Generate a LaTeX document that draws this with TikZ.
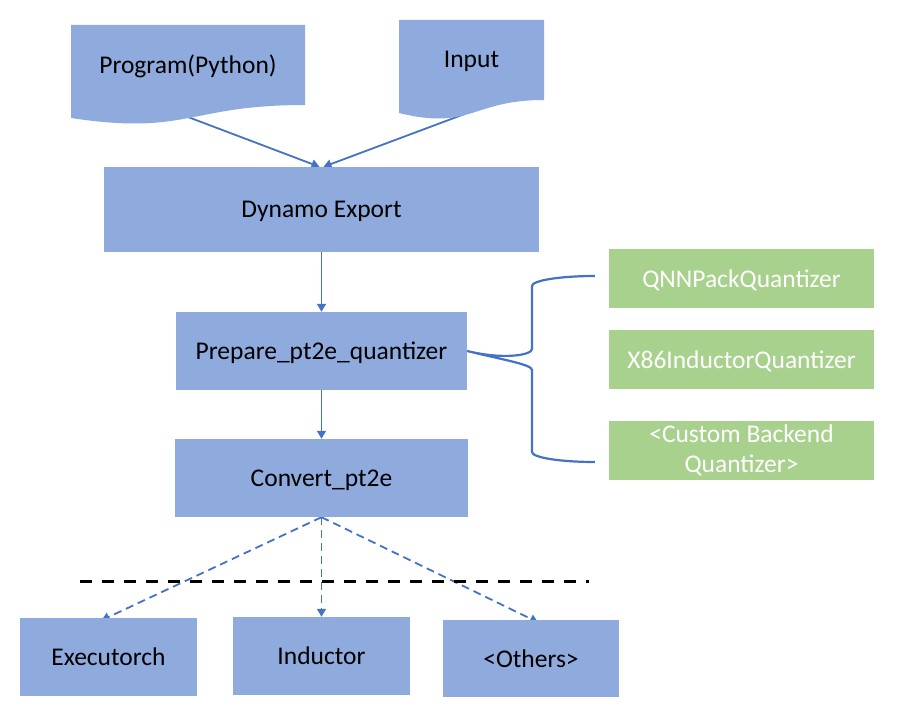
\documentclass[tikz,border=0pt]{standalone}
\usepackage{fontspec}
\setmainfont{Carlito}
\usetikzlibrary{arrows.meta,calc}
\definecolor{boxblue}{HTML}{8FAADC}
\definecolor{boxgreen}{HTML}{A9D18E}
\definecolor{linkblue}{HTML}{4472C4}
\pgfdeclarelayer{bg}
\pgfsetlayers{bg,main}
\begin{document}
\begin{tikzpicture}[x=1pt,y=-1pt,
  lbl/.style={font=\fontsize{25.5}{30}\selectfont, inner sep=0pt, align=center},
  oneline/.style={text height=20pt, text depth=3pt},
  bluebox/.style={lbl, fill=boxblue, draw=none, text=black},
  greenbox/.style={lbl, fill=boxgreen, draw=none, text=white, minimum width=265pt, minimum height=59pt},
  docshape/.style={fill=boxblue, draw=none},
  flow/.style={draw=linkblue, line width=1.8pt, -{Triangle[width=9pt,length=8pt]}},
  dflow/.style={flow, dash pattern=on 8pt off 5pt},
  bracepath/.style={draw=linkblue, line width=2.2pt},
  divider/.style={draw=black, line width=3pt, dash pattern=on 12pt off 10pt}
]
\useasboundingbox (0,0) rectangle (919,706);

% document shapes
\path[docshape] (71,25) -- (305,25) -- (305,105) .. controls (188,105) and (188,135.7) .. (71,118) -- cycle;
\path[docshape] (399,20) -- (544,20) -- (544,100) .. controls (471.5,100) and (471.5,130.7) .. (399,113) -- cycle;
\node[lbl, oneline] (prog) at (188,65.5) {Program(Python)};
\node[lbl, oneline] (inp) at (471.5,59.5) {Input};
\coordinate (progout) at (188,117);
\coordinate (inpout) at (470,112);

% main boxes
\node[bluebox, oneline, minimum width=435pt, minimum height=85pt] (dyn) at (321.5,209.5) {Dynamo Export};
\node[bluebox, oneline, minimum width=291pt, minimum height=78pt] (prep) at (321.5,351) {Prepare\_pt2e\_quantizer};
\node[bluebox, oneline, minimum width=293pt, minimum height=78pt] (conv) at (321.5,478) {Convert\_pt2e};
\node[bluebox, oneline, minimum width=177pt, minimum height=78pt] (exe) at (108.5,657) {Executorch};
\node[bluebox, oneline, minimum width=177pt, minimum height=78pt] (ind) at (321.5,656) {Inductor};
\node[bluebox, oneline, minimum width=176pt, minimum height=77pt] (oth) at (531,658.5) {<Others>};

% quantizers
\node[greenbox, oneline] (qnn) at (741.5,278.5) {QNNPackQuantizer};
\node[greenbox, oneline] (x86) at (741.5,359.5) {X86InductorQuantizer};
\node[greenbox] (cust) at (741.5,450.5) {<Custom Backend\\Quantizer>};

% connectors
\begin{pgfonlayer}{bg}
\draw[flow] (progout) -- ($(dyn.north)+(-2,0)$);
\draw[flow] (inpout) -- ($(dyn.north)+(2,0)$);
\draw[flow] (dyn.south) -- (prep.north);
\draw[flow] (prep.south) -- (conv.north);
\draw[dflow] (conv.south) -- ($(exe.north)+(-7,2.5)$);
\draw[dflow] (conv.south) -- (ind.north);
\draw[dflow] (conv.south) -- ($(oth.north)+(7,2.5)$);
\end{pgfonlayer}

% divider
\coordinate (dl) at (80,581);
\coordinate (dr) at (589,581);
\draw[divider] (dl) -- (dr);

% brace
\coordinate (bmid) at (prep.east);
\coordinate (btop) at ($(qnn.west)+(-14,-2.5)$);
\coordinate (bbot) at ($(cust.west)+(-14,11.5)$);
\draw[bracepath] (btop) .. controls (560,276) and (532,280.5) .. (532,286)
  -- (532,349) .. controls (532,355) and (504,360) .. (bmid)
  .. controls (504,360) and (532,364.5) .. (532,370)
  -- (532,452) .. controls (532,457.5) and (560,462) .. (bbot);
\end{tikzpicture}
\end{document}
